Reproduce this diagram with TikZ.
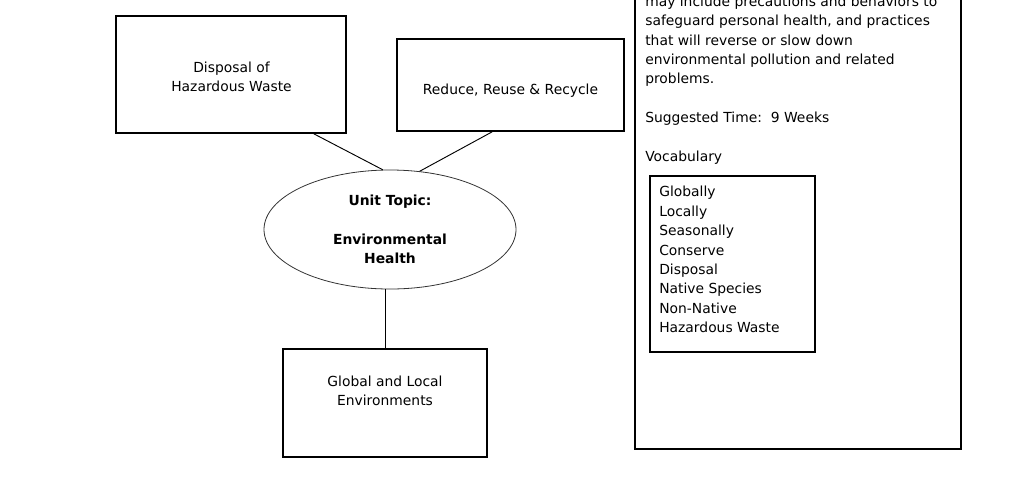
\documentclass[tikz,border=0pt]{standalone}
\usepackage{fontspec}
\setmainfont{DejaVu Sans}
\usetikzlibrary{shapes.geometric}
\begin{document}
\begin{tikzpicture}[x=0.75pt,y=-0.75pt,
  every node/.style={font=\fontsize{10.4pt}{14.55pt}\selectfont},
  box/.style={draw, line width=1.2pt, inner sep=0pt},
  topic/.style={draw=black!80, line width=0.6pt, ellipse, inner sep=0pt,
    minimum width=189pt, minimum height=89.25pt},
  label/.style={align=center, inner sep=0pt},
  para/.style={align=left, inner sep=0pt, anchor=north west},
  link/.style={line width=0.7pt}]
\useasboundingbox (0,0) rectangle (1020,497);
\clip (0,0) rectangle (1020,497);

% concept boxes around the central topic
\node[box, minimum width=172.5pt, minimum height=87.75pt] (waste) at (231,74.5) {};
\node[label] (wastetxt) at (231.5,77) {Disposal of\\Hazardous Waste};

\node[box, minimum width=170.25pt, minimum height=69pt] (reduce) at (510.5,85) {};
\node[label] (reducetxt) at (510.5,90.5) {Reduce, Reuse \& Recycle};

\node[topic] (unit) at (390,229.5) {};
\node[label, font=\bfseries\fontsize{10.4pt}{14.55pt}\selectfont] (unittxt) at (390,229.5)
  {Unit Topic:\\[14.55pt]Environmental\\Health};

\node[box, minimum width=153pt, minimum height=81pt] (global) at (385,403) {};
\node[label] (globaltxt) at (385,391) {Global and Local\\Environments};

% connectors
\draw[link] ([xshift=-24.75pt]waste.south east) -- (unit.97);
\draw[link] ([xshift=72pt]reduce.south west) -- (unit.63);
\draw[link] (global.north) -- (global.north |- unit.south);

% description panel
\node[box, minimum width=244.5pt, minimum height=366.75pt] (panel) at (798,204.5) {};
\node[para] (desc) at (645,-4.5) {may include precautions and behaviors to\\
safeguard personal health, and practices\\
that will reverse or slow down\\
environmental pollution and related\\
problems.\\[14.55pt]
Suggested Time:\ \ 9 Weeks\\[14.55pt]
Vocabulary};

\node[box, minimum width=123.75pt, minimum height=132pt] (vocab) at (732.5,264) {};
\node[para] (words) at (659,186) {Globally\\Locally\\Seasonally\\Conserve\\Disposal\\Native Species\\Non-Native\\Hazardous Waste};
\end{tikzpicture}
\end{document}
